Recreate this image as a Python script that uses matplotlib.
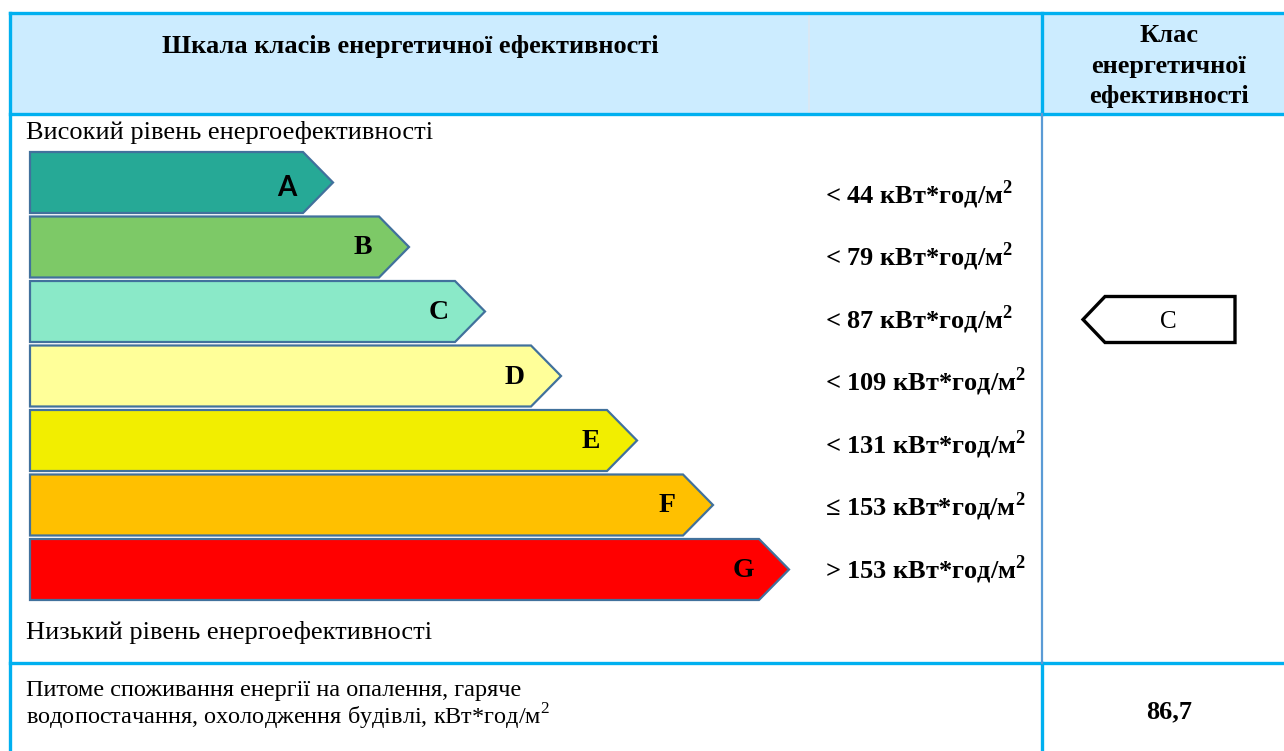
import matplotlib.pyplot as plt
from matplotlib.patches import Polygon, Rectangle

plt.rcParams['font.family'] = ['Liberation Serif', 'DejaVu Serif']
plt.rcParams['mathtext.fontset'] = 'custom'
plt.rcParams['mathtext.rm'] = 'Liberation Serif'
plt.rcParams['mathtext.bf'] = 'Liberation Serif:bold'

# energy classes, from best to worst
classes = ['A', 'B', 'C', 'D', 'E', 'F', 'G']
class_colors = ['#26A996', '#7DC967', '#8AE9C8', '#FFFF99', '#F2EE00', '#FFC000', '#FF0000']
thresholds = ['< 44', '< 79', '< 87', '< 109', '< 131', '≤ 153', '> 153']
unit_bold = r' кВт*год/м$^{\mathbf{2}}$'
unit = r'кВт*год/м$^{\mathrm{2}}$'

building_class = 'C'
building_value = '86,7'

title = 'Шкала класів енергетичної ефективності'
class_header = ['Клас', 'енергетичної', 'ефективності']
high_label = 'Високий рівень енергоефективності'
low_label = 'Низький рівень енергоефективності'
consumption_label = ['Питоме споживання енергії на опалення, гаряче',
                     'водопостачання, охолодження будівлі, ' + unit]

W, H = 1284, 751
fig = plt.figure(figsize=(W / 100, H / 100), dpi=100)
ax = fig.add_axes([0, 0, 1, 1])
ax.set_xlim(0, W)
ax.set_ylim(H, 0)
ax.axis('off')

border = '#00B0F0'
# header
ax.add_patch(Rectangle((10, 13), W - 10, 101, facecolor='#CCECFF', edgecolor='none'))
ax.plot([809, 809], [15, 112], color='#DCE8F2', lw=1.2)
ax.plot([10, W], [13, 13], color=border, lw=2.4)
ax.plot([10, W], [114, 114], color=border, lw=2.4)
ax.plot([10, W], [663, 663], color=border, lw=2.4)
ax.plot([10, 10], [13, H], color=border, lw=2.4)
ax.plot([1042, 1042], [13, 114], color=border, lw=2.4)
ax.plot([1042, 1042], [663, H], color=border, lw=2.4)
ax.plot([1042, 1042], [114, 663], color='#5B9BD5', lw=1.6)

ax.text(410, 47, title, fontsize=19, fontweight='bold', ha='center', va='center')
for i, line in enumerate(class_header):
    ax.text(1169, 36 + 30 * i, line, fontsize=19, fontweight='bold', ha='center', va='center')

ax.text(26, 132, high_label, fontsize=19, ha='left', va='center')
ax.text(26, 632, low_label, fontsize=19, ha='left', va='center')

# class arrows
x0, h, tip = 30, 61, 30
for i, (cls, col, thr) in enumerate(zip(classes, class_colors, thresholds)):
    top = 152 + 64.5 * i
    end = 303 + 76 * i
    mid = top + h / 2
    pts = [(x0, top), (end, top), (end + tip, mid), (end, top + h), (x0, top + h)]
    ax.add_patch(Polygon(pts, closed=True, facecolor=col, edgecolor='#41719C', lw=1.6))
    if cls == 'A':
        ax.text(end - 16, mid + 5, cls, fontsize=20, fontweight='bold', ha='center',
                va='center', family=['Lato', 'DejaVu Sans'])
    else:
        ax.text(end - 16, mid + 1, cls, fontsize=20, fontweight='bold', ha='center',
                va='center')
    ax.text(825, 203 + 62.5 * i, thr + unit_bold, fontsize=19, fontweight='bold',
            ha='left', va='baseline')

# building class marker
idx = classes.index(building_class)
cy = 152 + 64.5 * idx + h / 2 + 8
marker = [(1083, cy), (1105, cy - 23), (1235, cy - 23), (1235, cy + 23), (1105, cy + 23)]
ax.add_patch(Polygon(marker, closed=True, facecolor='white', edgecolor='black', lw=2.4))
ax.text(1168, cy + 2, building_class, fontsize=18, ha='center', va='center')

# bottom row
for i, line in enumerate(consumption_label):
    ax.text(26, 696 + 28 * i, line, fontsize=17.5, ha='left', va='baseline')
ax.text(1169, 712, building_value, fontsize=19, fontweight='bold', ha='center', va='center')

fig.savefig('out.png', dpi=100)
